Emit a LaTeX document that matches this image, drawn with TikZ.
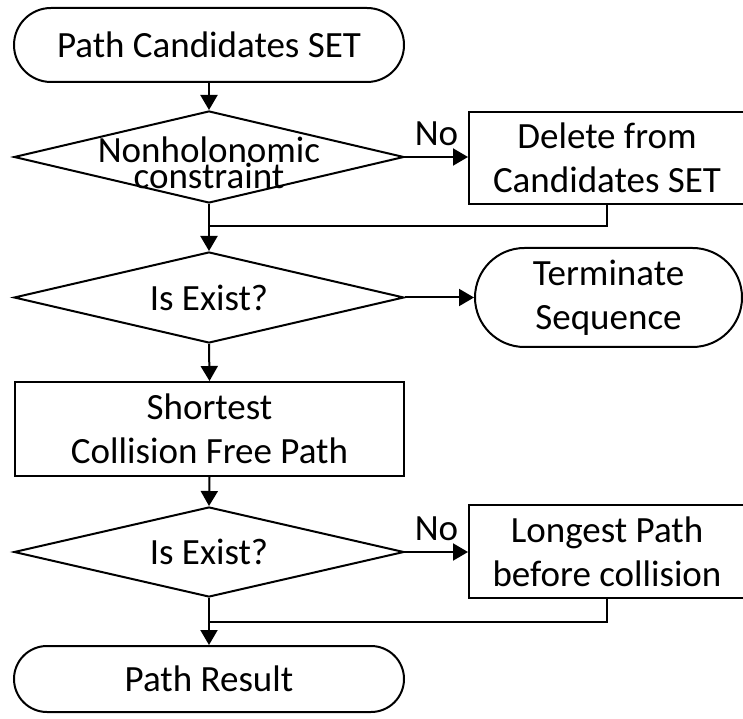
\documentclass[tikz,border=0pt]{standalone}
\usepackage{fontspec}
\setmainfont{Carlito}
\usetikzlibrary{shapes.geometric,shapes.misc,arrows.meta}
\tikzset{
  base/.style={draw=black, line width=2pt, inner sep=0pt, align=center,
    font=\fontsize{37}{44}\selectfont},
  term/.style={base, rounded rectangle},
  decide/.style={base, diamond, aspect=4.24},
  proc/.style={base, rectangle},
  conn/.style={line width=2pt, draw=black},
  arr/.style={conn, -{Triangle[length=15pt,width=17pt]}},
  lbl/.style={inner sep=2pt, font=\fontsize{37}{44}\selectfont}
}
\begin{document}
\begin{tikzpicture}[x=1pt,y=1pt]
\useasboundingbox (0,0) rectangle (743,718);
\clip (0,0) rectangle (743,718);
% nodes
\node[term, minimum width=390pt, minimum height=74pt] (t1) at (209,673) {Path Candidates SET};
\node[decide, minimum width=390pt, minimum height=92pt, font=\fontsize{37}{20}\selectfont] (d1) at (209,561)
  {\rule{0pt}{37pt}\makebox[0pt]{Nonholonomic}\\\makebox[0pt]{constraint}};
\node[proc, minimum width=276pt, minimum height=92pt] (b1) at (607,560) {Delete from\\Candidates SET};
\node[decide, minimum width=390pt, minimum height=91pt] (d2) at (209,420.5) {Is Exist?};
\node[term, minimum width=267pt, minimum height=99pt] (t2) at (608.5,420.5) {Terminate\\Sequence};
\node[proc, minimum width=389pt, minimum height=94pt] (b2) at (209.5,289) {Shortest\\Collision Free Path};
\node[decide, minimum width=390pt, minimum height=90pt] (d3) at (209,166) {Is Exist?};
\node[proc, minimum width=276pt, minimum height=93pt] (b3) at (607,166.5) {Longest Path\\before collision};
\node[term, minimum width=390pt, minimum height=66pt] (t3) at (209,39) {Path Result};
\coordinate (m1) at (209,492);
\coordinate (m2) at (209,96);
% connectors
\draw[arr] (t1.south) -- (d1.north);
\draw[arr] (d1.east) -- node[lbl, above=8pt] {No} (d1.east -| b1.west);
\draw[conn] (b1.south) |- (m1);
\draw[arr] (d1.south) -- (d2.north);
\draw[arr] (d2.east) -- (d2.east -| t2.west);
\draw[arr] (d2.south) -- (b2.north);
\draw[arr] (b2.south) -- (d3.north);
\draw[arr] (d3.east) -- node[lbl, above=8pt] {No} (d3.east -| b3.west);
\draw[conn] (b3.south) |- (m2);
\draw[arr] (d3.south) -- (t3.north);
\end{tikzpicture}
\end{document}
